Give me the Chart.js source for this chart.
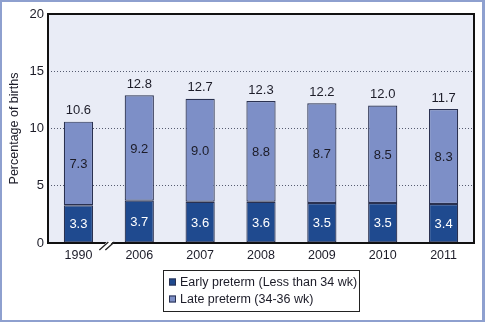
<!DOCTYPE html>
<html>
<head>
<meta charset="utf-8">
<title>Preterm births</title>
<script src="https://cdn.jsdelivr.net/npm/chart.js@4.4.0/dist/chart.umd.min.js"></script>
<style>
    html, body { margin: 0; padding: 0; background: #ffffff; }
    #wrap { width: 485px; height: 322px; position: relative; }
</style>
</head>
<body>
<div id="wrap"><canvas id="chart"></canvas></div>
<script>
// 数据
const years = ['1990', '2006', '2007', '2008', '2009', '2010', '2011'];
const earlyPreterm = [3.3, 3.7, 3.6, 3.6, 3.5, 3.5, 3.4];
const latePreterm = [7.3, 9.2, 9.0, 8.8, 8.7, 8.5, 8.3];
const totals = [10.6, 12.8, 12.7, 12.3, 12.2, 12.0, 11.7];
const yTicks = [0, 5, 10, 15, 20];

const FONT = 'Liberation Sans, Arial, Helvetica, sans-serif';
const DARK = '#1f4a8f';
const LIGHT = '#7d8fc7';
const EDGE = '#2a3150';
const INK = '#1c1c28';

// 背景、外框、绘图区底色
const backdrop = {
    id: 'backdrop',
    beforeDraw(chart) {
        const { ctx, width, height, chartArea: a } = chart;
        ctx.save();
        ctx.fillStyle = '#ffffff';
        ctx.fillRect(0, 0, width, height);
        ctx.fillStyle = '#8ea0cf';
        ctx.fillRect(0, 0, width, 2);
        ctx.fillRect(0, height - 2, width, 2);
        ctx.fillRect(0, 0, 2, height);
        ctx.fillRect(width - 3, 0, 3, height);
        ctx.fillStyle = '#e9ecf6';
        ctx.fillRect(a.left, a.top, a.right - a.left, a.bottom - a.top);
        ctx.restore();
    }
};

// 数值标签
const valueLabels = {
    id: 'valueLabels',
    afterDatasetsDraw(chart) {
        const { ctx } = chart;
        const early = chart.getDatasetMeta(0).data;
        const late = chart.getDatasetMeta(1).data;
        ctx.save();
        ctx.font = '13px ' + FONT;
        ctx.textAlign = 'center';
        ctx.textBaseline = 'middle';
        years.forEach((y, i) => {
            const e = early[i], l = late[i];
            ctx.fillStyle = '#ffffff';
            ctx.fillText(earlyPreterm[i].toFixed(1), e.x, (e.y + e.base) / 2 + 1);
            ctx.fillStyle = INK;
            ctx.fillText(latePreterm[i].toFixed(1), l.x, (l.y + l.base) / 2 + 1);
            ctx.fillText(totals[i].toFixed(1), l.x, l.y - 11);
        });
        ctx.restore();
    }
};

// 绘图区边框、断轴符号、图例
const frame = {
    id: 'plotFrame',
    afterDraw(chart) {
        const { ctx, chartArea: a, scales } = chart;
        const L = Math.round(a.left), R = Math.round(a.right);
        const T = Math.round(a.top), B = Math.round(a.bottom);
        ctx.save();
        ctx.fillStyle = '#111111';
        ctx.fillRect(L - 1, T - 1, R - L + 2, 2);
        ctx.fillRect(L - 1, B - 1, R - L + 2, 2);
        ctx.fillRect(L - 1, T - 1, 2, B - T + 2);
        ctx.fillRect(R - 1, T - 1, 2, B - T + 2);

        // 1990 和 2006 之间的断轴
        const mid = (scales.x.getPixelForValue(0) + scales.x.getPixelForValue(1)) / 2;
        const b = a.bottom;
        ctx.fillStyle = '#ffffff';
        ctx.beginPath();
        ctx.moveTo(mid - 8.5, b + 6);
        ctx.lineTo(mid - 2.5, b + 6);
        ctx.lineTo(mid + 4.5, b - 2);
        ctx.lineTo(mid - 1.5, b - 2);
        ctx.closePath();
        ctx.fill();
        ctx.strokeStyle = '#222222';
        ctx.lineWidth = 1.3;
        ctx.beginPath();
        ctx.moveTo(mid - 9.5, b + 7);
        ctx.lineTo(mid - 0.5, b - 1);
        ctx.moveTo(mid - 3.5, b + 7);
        ctx.lineTo(mid + 5.5, b - 1);
        ctx.stroke();

        // 图例
        const lx = 163.5, ly = 270.5, lw = 196, lh = 41;
        ctx.fillStyle = '#ffffff';
        ctx.fillRect(lx, ly, lw, lh);
        ctx.strokeStyle = '#222222';
        ctx.lineWidth = 1;
        ctx.strokeRect(lx, ly, lw, lh);
        ctx.font = '12.5px ' + FONT;
        ctx.textBaseline = 'middle';
        ctx.textAlign = 'left';
        chart.data.datasets.forEach((ds, i) => {
            const cy = 282 + i * 17;
            ctx.fillStyle = ds.backgroundColor;
            ctx.fillRect(169, cy - 3.5, 7, 7);
            ctx.strokeStyle = EDGE;
            ctx.strokeRect(169.5, cy - 3, 6, 6);
            ctx.fillStyle = INK;
            ctx.fillText(ds.label, 180, cy + 1);
        });
        ctx.restore();
    }
};

new Chart(document.getElementById('chart'), {
    type: 'bar',
    data: {
        labels: years,
        datasets: [
            {
                label: 'Early preterm (Less than 34 wk)',
                data: earlyPreterm,
                backgroundColor: DARK,
                borderColor: EDGE,
                borderWidth: 1.2,
                borderSkipped: false
            },
            {
                label: 'Late preterm (34-36 wk)',
                data: latePreterm,
                backgroundColor: LIGHT,
                borderColor: EDGE,
                borderWidth: 1.2,
                borderSkipped: false
            }
        ]
    },
    options: {
        responsive: true,
        maintainAspectRatio: false,
        animation: false,
        layout: { padding: { top: 14, right: 11, bottom: 0, left: 0 } },
        datasets: { bar: { categoryPercentage: 1, barPercentage: 0.48 } },
        plugins: {
            legend: { display: false },
            tooltip: { enabled: false }
        },
        scales: {
            x: {
                stacked: true,
                grid: { display: false, drawTicks: false },
                border: { display: false },
                ticks: { color: INK, padding: 5, font: { family: FONT, size: 12.5 } },
                afterFit(scale) { scale.height = 79; }
            },
            y: {
                stacked: true,
                min: yTicks[0],
                max: yTicks[yTicks.length - 1],
                afterBuildTicks(scale) { scale.ticks = yTicks.map(v => ({ value: v })); },
                grid: {
                    drawTicks: false,
                    lineWidth: 1,
                    color: c => (c.tick && (c.tick.value === 0 || c.tick.value === 20)) ? 'rgba(0,0,0,0)' : '#555b70'
                },
                border: { display: false, dash: [1, 2] },
                ticks: { color: INK, padding: 4, font: { family: FONT, size: 13 } },
                title: {
                    display: true,
                    text: 'Percentage of births',
                    color: INK,
                    font: { family: FONT, size: 12.5 },
                    padding: { top: 7, bottom: 0 }
                },
                afterFit(scale) { scale.width = 48; }
            }
        }
    },
    plugins: [backdrop, valueLabels, frame]
});
</script>
</body>
</html>
